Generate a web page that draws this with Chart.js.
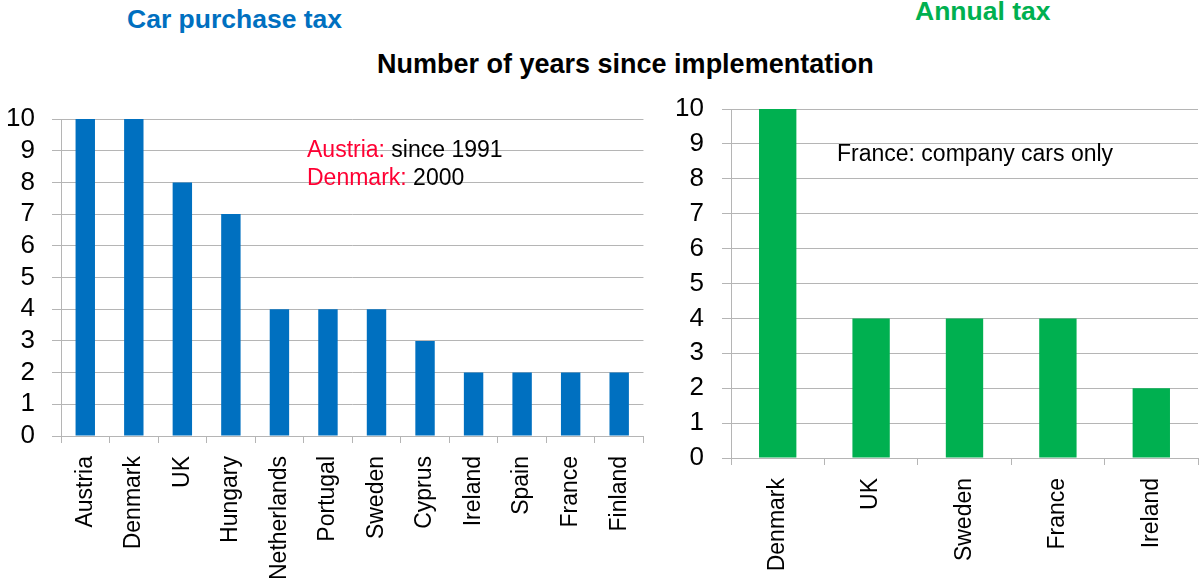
<!DOCTYPE html>
<html>
<head>
<meta charset="utf-8">
<script src="https://cdn.jsdelivr.net/npm/chart.js@4"></script>
<style>
    body { margin: 0; width: 1201px; height: 582px; background: #fff; position: relative; overflow: hidden; font-family: "Liberation Sans", Arial, sans-serif; }
    .box { position: absolute; top: 0; height: 582px; }
    .txt { position: absolute; white-space: nowrap; }
    .title { font-weight: bold; font-size: 26.5px; line-height: 30px; }
    .note { font-size: 23px; line-height: 28px; color: #000; }
    .red { color: #FF0033; }
</style>
</head>
<body>
<div class="txt title" style="left:127px; top:4px; color:#0070C0;">Car purchase tax</div>
<div class="txt title" style="left:915px; top:-4px; color:#00B050;">Annual tax</div>
<div class="txt title" style="left:377px; top:49px; color:#000; font-size:27px;">Number of years since implementation</div>

<div class="box" style="left:0; width:660px;"><canvas id="purchaseChart"></canvas></div>
<div class="box" style="left:660px; width:541px;"><canvas id="annualChart"></canvas></div>

<div class="txt note" style="left:307px; top:135px;"><span class="red">Austria:</span> since 1991<br><span class="red">Denmark:</span> 2000</div>
<div class="txt note" style="left:837px; top:139px;">France: company cars only</div>

<script>
// Car purchase tax data
const purchaseCountries = ['Austria', 'Denmark', 'UK', 'Hungary', 'Netherlands', 'Portugal', 'Sweden', 'Cyprus', 'Ireland', 'Spain', 'France', 'Finland'];
const purchaseYears = [10, 10, 8, 7, 4, 4, 4, 3, 2, 2, 2, 2];

// Annual tax data
const annualCountries = ['Denmark', 'UK', 'Sweden', 'France', 'Ireland'];
const annualYears = [10, 4, 4, 4, 2];

const yTicks = [0, 1, 2, 3, 4, 5, 6, 7, 8, 9, 10];

const gridColor = '#b5b5b5';
const fontFamily = '"Liberation Sans", Arial, sans-serif';

// Build one bar chart; axis sizes are fixed so the plot area lands where it should
function makeChart(id, labels, values, color, opts) {
    const ctx = document.getElementById(id).getContext('2d');
    return new Chart(ctx, {
        type: 'bar',
        data: {
            labels: labels,
            datasets: [{
                data: values,
                backgroundColor: color,
                borderWidth: 0,
                barPercentage: 0.4,
                categoryPercentage: 1.0
            }]
        },
        options: {
            responsive: true,
            maintainAspectRatio: false,
            animation: false,
            layout: {
                padding: { top: opts.top, right: opts.right, left: 0, bottom: 0 }
            },
            plugins: {
                legend: { display: false },
                tooltip: { enabled: false }
            },
            scales: {
                x: {
                    grid: {
                        offset: true,
                        drawOnChartArea: false,
                        drawTicks: true,
                        tickLength: 7,
                        color: gridColor
                    },
                    border: { color: gridColor },
                    ticks: {
                        autoSkip: false,
                        minRotation: 90,
                        maxRotation: 90,
                        padding: 13,
                        color: '#000',
                        font: { family: fontFamily, size: 23 }
                    },
                    afterFit: function(scale) { scale.height = opts.xHeight; }
                },
                y: {
                    min: 0,
                    max: 10,
                    afterBuildTicks: function(scale) {
                        scale.ticks = yTicks.map(v => ({ value: v }));
                    },
                    grid: {
                        color: gridColor,
                        tickLength: 9
                    },
                    border: { color: gridColor },
                    ticks: {
                        autoSkip: false,
                        padding: opts.yPad,
                        color: '#000',
                        font: { family: fontFamily, size: 26 }
                    },
                    afterFit: function(scale) { scale.width = opts.yWidth; }
                }
            }
        }
    });
}

window.onload = function() {
    makeChart('purchaseChart', purchaseCountries, purchaseYears, '#0070C0',
        { top: 119, right: 5, xHeight: 146, yWidth: 61, yPad: 17 });
    makeChart('annualChart', annualCountries, annualYears, '#00B050',
        { top: 109, right: 3, xHeight: 124, yWidth: 71, yPad: 18 });
};
</script>
</body>
</html>
